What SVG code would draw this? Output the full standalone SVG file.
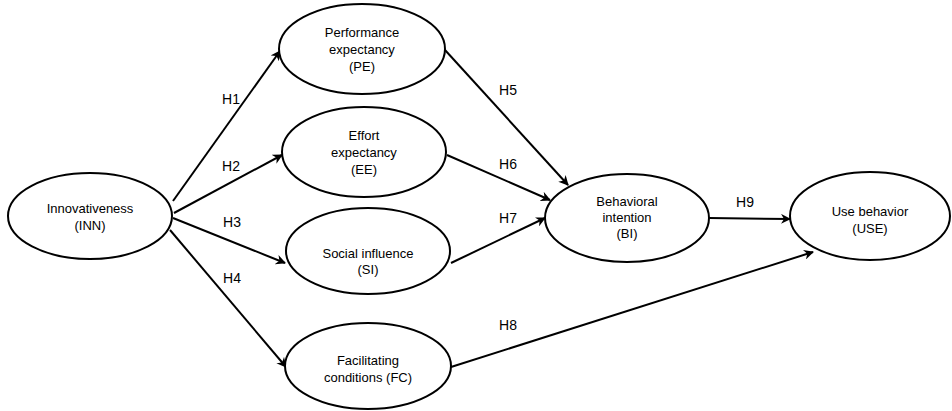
<svg xmlns="http://www.w3.org/2000/svg" width="952" height="411" viewBox="0 0 952 411">
<style>
.n ellipse{fill:#fff;stroke:#000;stroke-width:2}
.n text{font-family:"Liberation Sans",Arial,sans-serif;font-size:13px;fill:#000;text-anchor:middle}
.e line{stroke:#000;stroke-width:2;fill:none}
.l{font-family:"Liberation Sans",Arial,sans-serif;font-size:14px;fill:#000;text-anchor:middle}
</style>
<defs>
<marker id="a" viewBox="0 0 10 10" refX="9" refY="5" markerWidth="5" markerHeight="5" orient="auto" markerUnits="strokeWidth">
<path d="M0,0 L10,5 L0,10 L3,5 Z" fill="#000"/>
</marker>
</defs>
<rect width="952" height="411" fill="#fff"/>
<g class="e" id="connectors">
<line x1="173" y1="201" x2="280" y2="51" marker-end="url(#a)"/>
<line x1="174" y1="213" x2="282" y2="155" marker-end="url(#a)"/>
<line x1="173" y1="218" x2="285" y2="263" marker-end="url(#a)"/>
<line x1="170" y1="230" x2="286" y2="367" marker-end="url(#a)"/>
<line x1="445" y1="50" x2="568" y2="185" marker-end="url(#a)"/>
<line x1="447" y1="155" x2="550" y2="200" marker-end="url(#a)"/>
<line x1="451" y1="263" x2="545" y2="218" marker-end="url(#a)"/>
<line x1="709" y1="218" x2="790" y2="219" marker-end="url(#a)"/>
<line x1="451" y1="367" x2="813" y2="252" marker-end="url(#a)"/>
</g>
<g id="labels">
<text class="l" x="231" y="104">H1</text>
<text class="l" x="231" y="171">H2</text>
<text class="l" x="232" y="227">H3</text>
<text class="l" x="232" y="283">H4</text>
<text class="l" x="508" y="95">H5</text>
<text class="l" x="508" y="169">H6</text>
<text class="l" x="508" y="223">H7</text>
<text class="l" x="508" y="330">H8</text>
<text class="l" x="745" y="207">H9</text>
</g>
<g class="n" id="INN"><ellipse cx="90" cy="216" rx="82" ry="43"/><text x="90" y="213">Innovativeness</text><text x="90" y="230">(INN)</text></g>
<g class="n" id="PE"><ellipse cx="362" cy="49" rx="83" ry="45"/><text x="362" y="37">Performance</text><text x="362" y="54">expectancy</text><text x="362" y="71">(PE)</text></g>
<g class="n" id="EE"><ellipse cx="364" cy="152" rx="82" ry="45"/><text x="364" y="140">Effort</text><text x="364" y="157">expectancy</text><text x="364" y="174">(EE)</text></g>
<g class="n" id="SI"><ellipse cx="368" cy="251" rx="82" ry="43"/><text x="368" y="258">Social influence</text><text x="368" y="274">(SI)</text></g>
<g class="n" id="FC"><ellipse cx="368" cy="366" rx="83" ry="43"/><text x="368" y="365">Facilitating</text><text x="368" y="382">conditions (FC)</text></g>
<g class="n" id="BI"><ellipse cx="627" cy="218" rx="82" ry="44"/><text x="627" y="206">Behavioral</text><text x="627" y="222">intention</text><text x="627" y="238">(BI)</text></g>
<g class="n" id="USE"><ellipse cx="870" cy="216" rx="80" ry="44"/><text x="870" y="216">Use behavior</text><text x="870" y="233">(USE)</text></g>
</svg>
